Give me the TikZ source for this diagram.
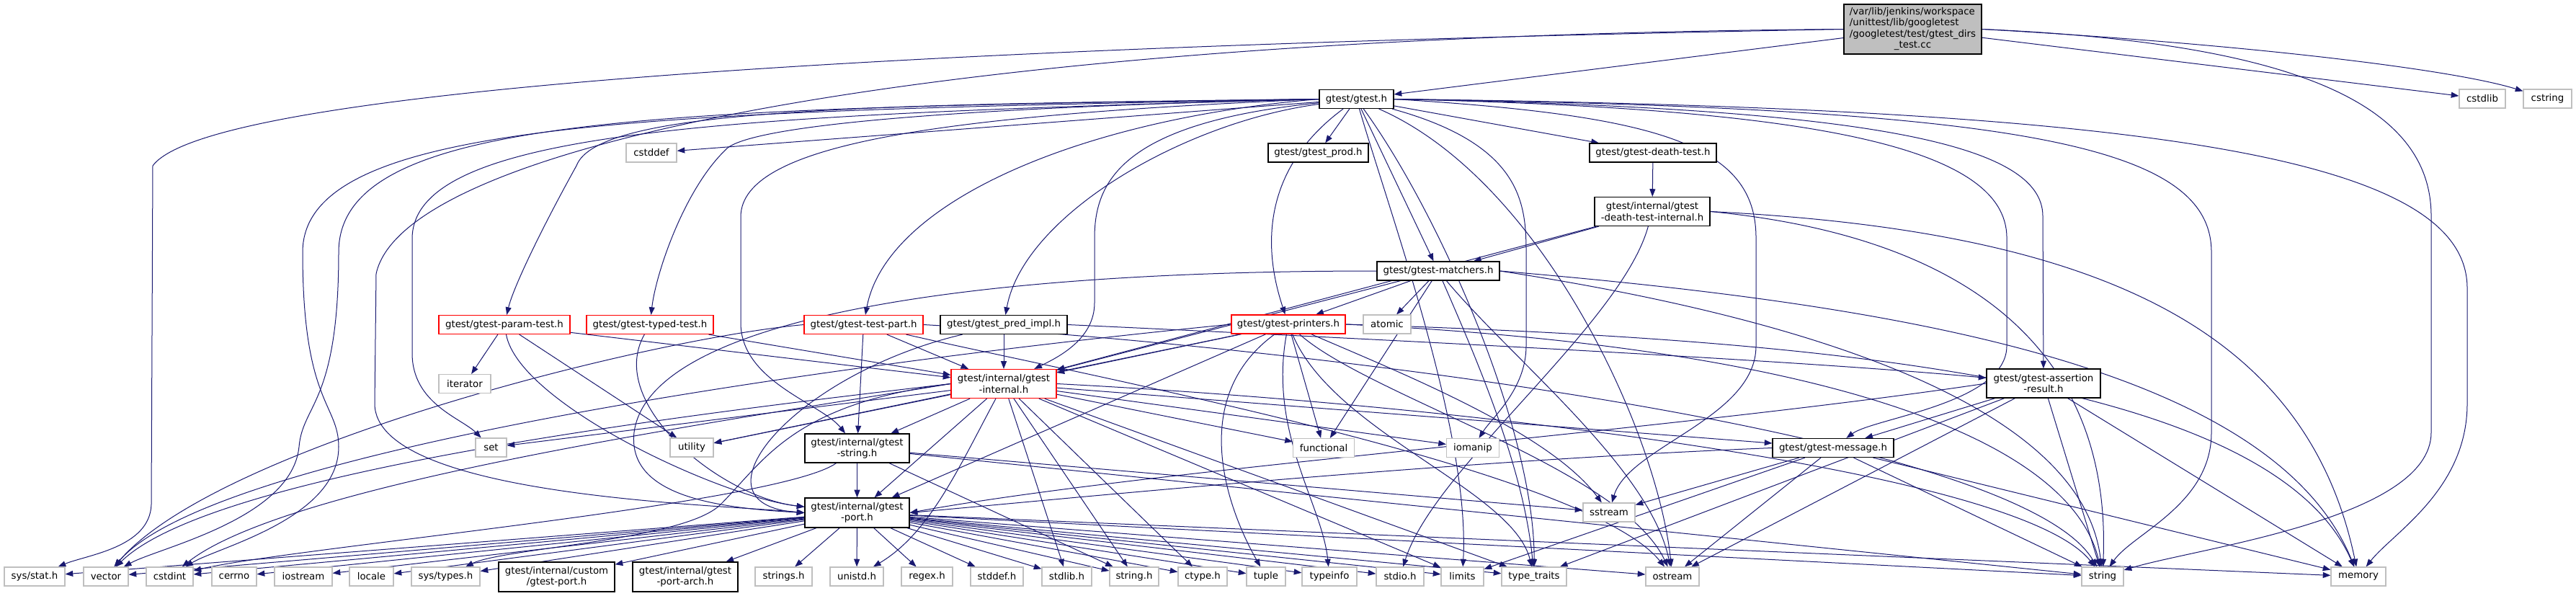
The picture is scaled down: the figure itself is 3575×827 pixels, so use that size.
\documentclass[tikz,border=0pt]{standalone}
\usepackage{fontspec}
\setmainfont{DejaVu Sans}
\usetikzlibrary{arrows.meta}
\definecolor{edgecol}{RGB}{25,25,112}
\definecolor{sysgray}{RGB}{191,191,191}
\definecolor{mainfill}{RGB}{191,191,191}
\definecolor{truncred}{RGB}{255,0,0}
\pgfdeclarelayer{bg}
\pgfsetlayers{bg,main}
\tikzset{
  box/.style={rectangle, inner sep=0pt, align=center, line width=0.9pt, fill=white,
    minimum height=19.5pt, font=\fontsize{10}{11.5}\selectfont},
  sys/.style={box, draw=sysgray},
  doc/.style={box, draw=black},
  trunc/.style={box, draw=truncred},
  mainbox/.style={box, draw=black, fill=mainfill},
  bw/.style={minimum width=#1*0.75pt},
  bh/.style={minimum height=#1*0.75pt},
  e/.style={draw=edgecol, line width=0.75pt, -{Triangle[length=8pt,width=6pt]}}
}
\begin{document}
\begin{tikzpicture}[x=0.75pt, y=-0.75pt]
\useasboundingbox (0,0) rectangle (3575,827);
% nodes
\node[mainbox, bw=191, bh=69] (main) at (2654.5,40.5) {\begin{tabular}{@{}l@{}}/var/lib/jenkins/workspace\\/unittest/lib/googletest\\/googletest/test/gtest\_dirs\\\multicolumn{1}{@{}c@{}}{\_test.cc}\end{tabular}};
\node[sys, bw=64] (cstdlib) at (3445,137) {cstdlib};
\node[sys, bw=67] (cstring) at (3535.5,137) {cstring};
\node[doc, bw=103] (gtest) at (1882.5,137.5) {gtest/gtest.h};
\node[sys, bw=70] (cstddef) at (904,212) {cstddef};
\node[doc, bw=139] (prod) at (1829.5,212) {gtest/gtest\_prod.h};
\node[doc, bw=176] (death) at (2294,212) {gtest/gtest-death-test.h};
\node[doc, bw=160, bh=40] (dinternal) at (2293,293.5) {gtest/internal/gtest\\-death-test-internal.h};
\node[doc, bw=170] (matchers) at (1996,376) {gtest/gtest-matchers.h};
\node[trunc, bw=182] (param) at (700,450.5) {gtest/gtest-param-test.h};
\node[trunc, bw=176] (typed) at (902,450.5) {gtest/gtest-typed-test.h};
\node[trunc, bw=165] (testpart) at (1198.5,450.5) {gtest/gtest-test-part.h};
\node[doc, bw=176] (pred) at (1393,450.5) {gtest/gtest\_pred\_impl.h};
\node[trunc, bw=158] (printers) at (1788,450) {gtest/gtest-printers.h};
\node[sys, bw=66] (atomic) at (1925,450) {atomic};
\node[sys, bw=72] (iterator) at (645,532.5) {iterator};
\node[trunc, bw=146, bh=40] (internal) at (1393,532.5) {gtest/internal/gtest\\-internal.h};
\node[doc, bw=158, bh=40] (assertion) at (2836,532) {gtest/gtest-assertion\\-result.h};
\node[sys, bw=43] (set) at (681.5,621) {set};
\node[sys, bw=60] (utility) at (960,621) {utility};
\node[doc, bw=145, bh=40] (gstring) at (1189.5,622) {gtest/internal/gtest\\-string.h};
\node[sys, bw=85] (functional) at (1837,621.5) {functional};
\node[sys, bw=73] (iomanip) at (2044,621.5) {iomanip};
\node[doc, bw=168] (message) at (2544,621.5) {gtest/gtest-message.h};
\node[doc, bw=145, bh=41] (port) at (1189.5,711.5) {gtest/internal/gtest\\-port.h};
\node[sys, bw=72] (sstream) at (2233,711) {sstream};
% bottom row
\node[sys, bw=84] (stat) at (48,800) {sys/stat.h};
\node[sys, bw=62] (vector) at (147,800) {vector};
\node[sys, bw=65] (cstdint) at (235.5,800) {cstdint};
\node[sys, bw=62] (cerrno) at (325,800) {cerrno};
\node[sys, bw=80] (iostream) at (421,800) {iostream};
\node[sys, bw=61] (locale) at (515.5,800) {locale};
\node[sys, bw=95] (systypes) at (618.5,800) {sys/types.h};
\node[doc, bw=161, bh=41] (custom) at (772.5,800.5) {gtest/internal/custom\\/gtest-port.h};
\node[doc, bw=146, bh=41] (arch) at (951,800.5) {gtest/internal/gtest\\-port-arch.h};
\node[sys, bw=79] (strings) at (1087.5,800) {strings.h};
\node[sys, bw=74] (unistd) at (1189,800) {unistd.h};
\node[sys, bw=71] (regex) at (1286.5,800) {regex.h};
\node[sys, bw=73] (stddef) at (1383.5,800) {stddef.h};
\node[sys, bw=69] (stdlib) at (1480.5,800) {stdlib.h};
\node[sys, bw=68] (stringh) at (1574,800) {string.h};
\node[sys, bw=68] (ctype) at (1669,800) {ctype.h};
\node[sys, bw=54] (tuple) at (1757,800) {tuple};
\node[sys, bw=76] (typeinfo) at (1845,800) {typeinfo};
\node[sys, bw=66] (stdio) at (1943,800) {stdio.h};
\node[sys, bw=59] (limits) at (2029.5,800) {limits};
\node[sys, bw=90] (typetraits) at (2129,800) {type\_traits};
\node[sys, bw=74] (ostream) at (2321,800) {ostream};
\node[sys, bw=58] (string) at (2918,800) {string};
\node[sys, bw=76] (memory) at (3273,800) {memory};

\begin{pgfonlayer}{bg}
% main
\draw[e] (main) -- (gtest);
\draw[e] (main) -- (cstdlib);
\draw[e] (main.east) .. controls (3100,60) and (3400,95) .. (cstring);
\draw[e] (main.east) .. controls (3200,60) and (3374,150) .. (3374,300) -- (3374,600) .. controls (3374,720) and (3050,760) .. (string);
\draw[e] (main.west) .. controls (1500,60) and (300,110) .. (212,230) -- (210,700) .. controls (208,760) and (120,770) .. (stat);
\draw[e] (main.west) .. controls (1300,50) and (560,200) .. (522,380) -- (520,560) .. controls (520,690) and (1000,700) .. (port.west);
% gtest.h
\draw[e] (gtest) -- (cstddef);
\draw[e] (gtest) -- (prod);
\draw[e] (gtest) -- (death);
\draw[e] (gtest) -- (matchers);
\draw[e] (gtest.west) .. controls (900,150) and (470,160) .. (470,350) .. controls (470,560) and (420,560) .. (415,620) .. controls (405,720) and (220,760) .. (vector);
\draw[e] (gtest.west) .. controls (900,155) and (420,165) .. (420,350) .. controls (420,560) and (470,560) .. (470,620) .. controls (470,720) and (300,760) .. (cstdint);
\draw[e] (gtest.west) .. controls (1000,160) and (575,180) .. (572,330) -- (572,490) .. controls (572,560) and (640,580) .. (set);
\draw[e] (gtest.west) .. controls (1200,145) and (830,150) .. (800,230) .. controls (750,320) and (712,400) .. (param);
\draw[e] (gtest.west) .. controls (1300,150) and (1050,175) .. (1010,205) .. controls (950,260) and (910,380) .. (typed);
\draw[e] (gtest.west) .. controls (1500,165) and (1230,280) .. (testpart);
\draw[e] (gtest) .. controls (1640,170) and (1420,300) .. (pred);
\draw[e] (gtest) .. controls (1730,250) and (1765,380) .. (printers);
\draw[e] (gtest) .. controls (1560,170) and (1519,250) .. (1519,330) -- (1519,420) .. controls (1519,470) and (1470,495) .. (internal);
\draw[e] (gtest.west) .. controls (1300,160) and (1030,200) .. (1028,300) -- (1028,450) .. controls (1030,530) and (1140,560) .. (gstring);
\draw[e] (gtest) .. controls (2110,200) and (2118,280) .. (2118,350) -- (2118,480) .. controls (2118,540) and (2070,580) .. (iomanip);
\draw[e] (gtest) .. controls (1930,300) and (2040,600) .. (limits);
\draw[e] (gtest) .. controls (2000,300) and (2130,600) .. (typetraits);
\draw[e] (gtest) .. controls (2140,250) and (2300,600) .. (ostream);
\draw[e] (gtest.east) .. controls (2300,160) and (2437,200) .. (2437,330) -- (2437,480) .. controls (2437,580) and (2260,620) .. (sstream);
\draw[e] (gtest.east) .. controls (2500,150) and (2785,200) .. (2785,330) -- (2785,480) .. controls (2785,560) and (2600,580) .. (message);
\draw[e] (gtest.east) .. controls (2600,150) and (2835,200) .. (2835,300) -- (assertion);
\draw[e] (gtest.east) .. controls (2800,150) and (3069,200) .. (3069,350) -- (3069,600) .. controls (3069,700) and (2960,740) .. (string);
\draw[e] (gtest.east) .. controls (3000,150) and (3424,220) .. (3424,400) -- (3424,560) .. controls (3424,680) and (3320,740) .. (memory);
% death test
\draw[e] (death) -- (dinternal);
\draw[e] (dinternal) -- (matchers);
\draw[e] (dinternal) -- (internal);
\draw[e] (dinternal) .. controls (2250,450) and (1990,650) .. (stdio);
\draw[e] (dinternal.east) .. controls (2900,320) and (3200,450) .. (memory);
\draw[e] (dinternal.east) .. controls (2750,330) and (2930,500) .. (string);
% matchers
\draw[e] (matchers) -- (printers);
\draw[e] (matchers) -- (atomic);
\draw[e] (matchers) -- (functional);
\draw[e] (matchers) -- (internal);
\draw[e] (matchers.west) .. controls (1300,376) and (900,450) .. (880,600) .. controls (870,690) and (1000,705) .. (port.west);
\draw[e] (matchers.east) .. controls (2600,420) and (3150,500) .. (memory);
\draw[e] (matchers) .. controls (2100,500) and (2290,650) .. (ostream);
\draw[e] (matchers.east) .. controls (2500,440) and (2890,560) .. (string);
\draw[e] (matchers) .. controls (2050,500) and (2115,650) .. (typetraits);
% printers
\draw[e] (printers) -- (internal);
\draw[e] (printers) -- (port);
\draw[e] (printers) -- (functional);
\draw[e] (printers) -- (utility);
\draw[e] (printers.west) .. controls (1200,500) and (300,620) .. (vector);
\draw[e] (printers.east) .. controls (2500,470) and (3150,520) .. (memory);
\draw[e] (printers) .. controls (1900,550) and (2250,650) .. (ostream);
\draw[e] (printers) .. controls (1950,520) and (2150,600) .. (sstream);
\draw[e] (printers.east) .. controls (2500,480) and (2870,600) .. (string);
\draw[e] (printers) .. controls (1650,550) and (1700,700) .. (tuple);
\draw[e] (printers) .. controls (1850,600) and (2100,680) .. (typetraits);
\draw[e] (printers) .. controls (1760,600) and (1835,700) .. (typeinfo);
% param / typed / test-part / pred
\draw[e] (param) -- (iterator);
\draw[e] (param) -- (utility);
\draw[e] (param) -- (internal);
\draw[e] (param) .. controls (720,560) and (1000,690) .. (port);
\draw[e] (typed) -- (internal);
\draw[e] (typed) .. controls (840,560) and (1000,690) .. (port);
\draw[e] (testpart) -- (internal);
\draw[e] (testpart) -- (gstring);
\draw[e] (testpart.west) .. controls (900,470) and (300,620) .. (vector);
\draw[e] (testpart) .. controls (1500,520) and (2200,650) .. (ostream);
\draw[e] (testpart.east) .. controls (1800,480) and (2800,600) .. (string);
\draw[e] (pred) -- (internal);
\draw[e] (pred.east) .. controls (1900,470) and (2500,500) .. (assertion);
\draw[e] (pred) .. controls (1100,520) and (950,700) .. (port.west);
% internal
\draw[e] (internal) -- (port);
\draw[e] (internal) -- (gstring);
\draw[e] (internal) -- (set);
\draw[e] (internal) -- (utility);
\draw[e] (internal.west) .. controls (1000,570) and (300,650) .. (vector);
\draw[e] (internal.west) .. controls (1000,585) and (400,670) .. (cstdint);
\draw[e] (internal) -- (functional);
\draw[e] (internal) -- (iomanip);
\draw[e] (internal) -- (message);
\draw[e] (internal.east) .. controls (2000,560) and (2800,650) .. (string);
\draw[e] (internal) -- (limits);
\draw[e] (internal) -- (typetraits);
\draw[e] (internal) -- (stdlib);
\draw[e] (internal) -- (stringh);
\draw[e] (internal) -- (ctype);
\draw[e] (internal.west) .. controls (1100,560) and (1060,640) .. (1000,700) .. controls (950,750) and (700,760) .. (systypes);
\draw[e] (internal) .. controls (1330,650) and (1290,740) .. (unistd);
% message
\draw[e] (message.west) .. controls (2000,640) and (1500,690) .. (port.east);
\draw[e] (message) -- (limits);
\draw[e] (message) -- (memory);
\draw[e] (message) -- (ostream);
\draw[e] (message) -- (sstream);
\draw[e] (message) -- (string);
% assertion
\draw[e] (assertion) -- (message);
\draw[e] (assertion.west) .. controls (2300,600) and (1600,650) .. (port.east);
\draw[e] (assertion) -- (memory);
\draw[e] (assertion) -- (ostream);
\draw[e] (assertion) -- (string);
\draw[e] (assertion) -- (typetraits);
% gtest-string
\draw[e] (gstring) -- (port);
\draw[e] (gstring) .. controls (1080,700) and (400,760) .. (cstdint);
\draw[e] (gstring) -- (stringh);
\draw[e] (gstring) -- (sstream);
\draw[e] (gstring) -- (string);
% port
\foreach \tgt in {stat,vector,cstdint,cerrno,iostream,locale,systypes,custom,arch,strings,unistd,regex,stddef,stdlib,stringh,ctype,tuple,typeinfo,stdio,limits,typetraits,ostream,string,memory}
  \draw[e] (port) -- (\tgt);
\end{pgfonlayer}
\end{tikzpicture}
\end{document}
